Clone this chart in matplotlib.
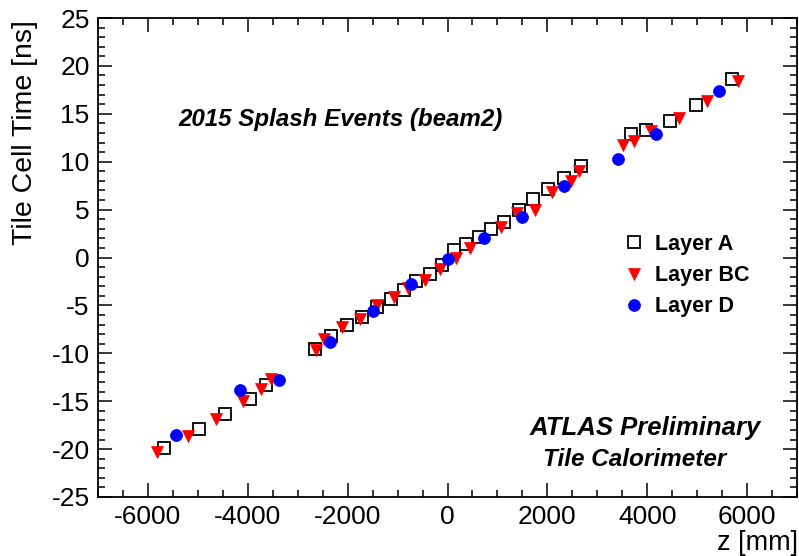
import matplotlib
matplotlib.use("Agg")
import matplotlib.pyplot as plt
from matplotlib.ticker import MultipleLocator

# ---- data ----
zA = [-5673, -4973, -4447, -3960, -3627, -2650, -2340, -2013, -1717, -1420,
      -1137, -866, -627, -360, -113, 127, 373, 635, 873, 1140,
      1430, 1707, 2007, 2340, 2673, 3673, 3973, 4460, 4987, 5693]
tA = [-19.9, -17.9, -16.3, -14.8, -13.3, -9.5, -8.2, -7.0, -6.2, -5.2,
      -4.3, -3.4, -2.5, -1.7, -0.8, 0.8, 1.4, 2.1, 3.0, 3.7,
      5.0, 6.1, 7.1, 8.3, 9.6, 12.9, 13.3, 14.3, 15.9, 18.6]

zBC = [-5813, -5193, -4640, -4093, -3727, -3527, -2640, -2480, -2107, -1747,
       -1413, -1080, -793, -447, -160, 173, 445, 1080, 1390, 1750,
       2090, 2473, 2640, 3507, 3727, 4073, 4640, 5207, 5827]
tBC = [-20.3, -18.6, -16.9, -15.0, -13.7, -12.7, -9.7, -8.5, -7.3, -6.4,
       -5.0, -4.1, -3.2, -2.3, -1.2, 0.0, 0.95, 3.2, 4.6, 5.0,
       6.8, 8.0, 9.0, 11.7, 12.2, 13.2, 14.6, 16.3, 18.4]

zD = [-5440, -4160, -3380, -2350, -1493, -727, 7, 730, 1490, 2340, 3407, 4173, 5440]
tD = [-18.5, -13.8, -12.8, -8.8, -5.6, -2.75, -0.2, 2.0, 4.2, 7.5, 10.3, 12.9, 17.4]

labels = ["Layer A", "Layer BC", "Layer D"]
xticks = [-6000, -4000, -2000, 0, 2000, 4000, 6000]
yticks = [-25, -20, -15, -10, -5, 0, 5, 10, 15, 20, 25]

FONT = "Liberation Sans"
plt.rcParams["font.family"] = [FONT, "DejaVu Sans"]

W, H = 799, 556
fig = plt.figure(figsize=(W / 100, H / 100), dpi=100)
ax = fig.add_axes([98 / W, 1 - 497 / H, (797 - 98) / W, (497 - 18) / H])

ax.plot(zA, tA, linestyle="none", marker="s", ms=9, mfc="white", mec="black",
        mew=1.3, label=labels[0])
ax.plot(zBC, tBC, linestyle="none", marker="v", ms=9, mfc="red", mec="red",
        mew=0.5, label=labels[1])
ax.plot(zD, tD, linestyle="none", marker="o", ms=8.6, mfc="blue", mec="blue",
        mew=0.5, label=labels[2])

ax.set_xlim(-7000, 7000)
ax.set_ylim(-25, 25)
ax.set_xticks(xticks)
ax.set_yticks(yticks)
ax.set_xticklabels([str(v) for v in xticks])
ax.set_yticklabels([str(v) for v in yticks])
ax.xaxis.set_minor_locator(MultipleLocator(500))
ax.yaxis.set_minor_locator(MultipleLocator(1))
ax.tick_params(which="both", direction="in", top=True, right=True, width=1.1,
               color="black")
ax.tick_params(which="major", length=10, labelsize=19, pad=6)
ax.tick_params(which="minor", length=5)
for s in ax.spines.values():
    s.set_linewidth(1.3)

fig.text(25 / W, 1 - 20 / H, "Tile Cell Time [ns]", rotation=90, ha="center",
         va="top", fontsize=20.5)
fig.text(798 / W, 1 - 543 / H, "z [mm]", ha="right", va="center", fontsize=19.5)

fig.text(178 / W, 1 - 126 / H, "2015 Splash Events (beam2)", fontsize=17.4,
         fontweight="bold", fontstyle="italic", ha="left", va="baseline")
fig.text(530 / W, 1 - 435 / H, "ATLAS Preliminary", fontsize=18.5,
         fontweight="bold", fontstyle="italic", ha="left", va="baseline")
fig.text(543 / W, 1 - 466 / H, "Tile Calorimeter", fontsize=17.5,
         fontweight="bold", fontstyle="italic", ha="left", va="baseline")

leg = ax.legend(loc="upper left", bbox_to_anchor=(623 / W, 1 - 234 / H),
                bbox_transform=fig.transFigure, frameon=False, numpoints=1,
                handlelength=1.0, handletextpad=0.5, borderpad=0,
                borderaxespad=0, labelspacing=0.47,
                prop={"family": FONT, "weight": "bold", "size": 15.5})

fig.savefig("out.png", dpi=100, facecolor="white")
